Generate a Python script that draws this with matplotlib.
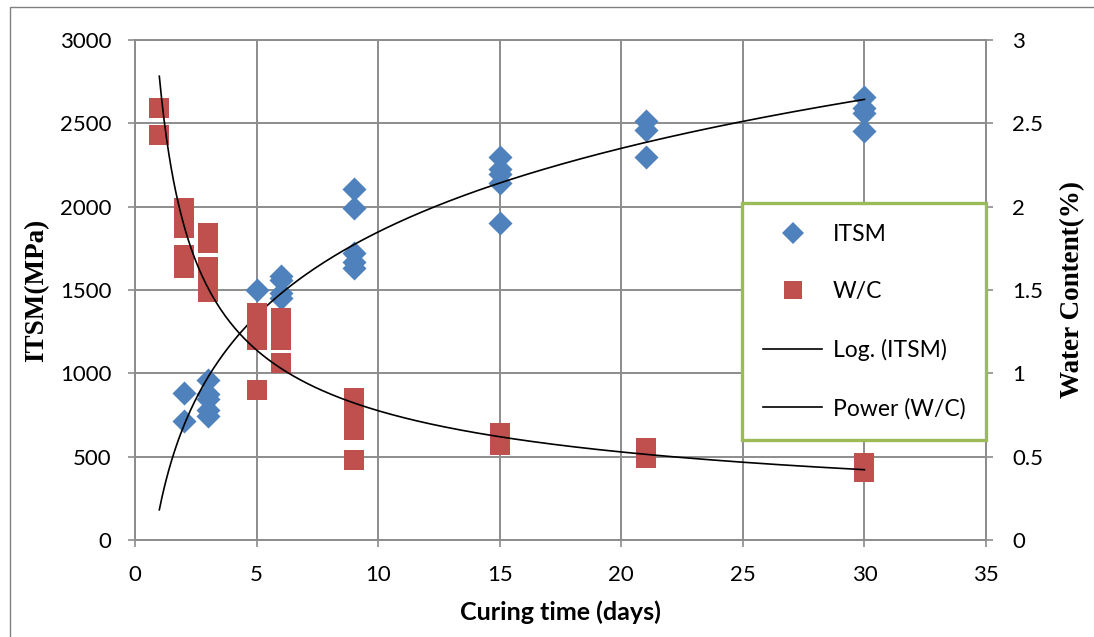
import numpy as np
import matplotlib
matplotlib.use("Agg")
import matplotlib.pyplot as plt
from matplotlib.lines import Line2D
from matplotlib.patches import Rectangle

# ITSM measurements (MPa) by curing time (days)
itsm_days = [2, 2, 3, 3, 3, 3, 3, 5, 6, 6, 6, 6, 9, 9, 9, 9, 9,
             15, 15, 15, 15, 15, 21, 21, 21, 30, 30, 30, 30]
itsm_vals = [885, 712, 960, 875, 845, 780, 742, 1500, 1585, 1560, 1485, 1455,
             2105, 1995, 1720, 1670, 1630,
             2300, 2225, 2195, 2140, 1900, 2515, 2460, 2300, 2660, 2595, 2560, 2455]

# Water content (%) by curing time (days)
wc_days = [1, 1, 2, 2, 2, 2, 2, 3, 3, 3, 3, 3, 5, 5, 5, 5, 6, 6, 6, 6,
           9, 9, 9, 9, 15, 15, 21, 21, 30, 30]
wc_vals = [2.59, 2.43, 1.99, 1.92, 1.87, 1.71, 1.63, 1.84, 1.78, 1.64, 1.56, 1.49,
           1.36, 1.28, 1.2, 0.9, 1.33, 1.26, 1.2, 1.06,
           0.85, 0.75, 0.66, 0.48, 0.64, 0.57, 0.55, 0.49, 0.46, 0.41]

x_ticks = [0, 5, 10, 15, 20, 25, 30, 35]
left_ticks = [0, 500, 1000, 1500, 2000, 2500, 3000]
right_ticks = [0, 0.5, 1, 1.5, 2, 2.5, 3]
right_labels = ["0", "0.5", "1", "1.5", "2", "2.5", "3"]

BLUE = "#4F81BD"
RED = "#C0504D"
GRID = "#8C8C8C"
GREEN = "#9BBB59"
tick_font = "Lato"

fig = plt.figure(figsize=(10.94, 6.37), dpi=100)
ax = fig.add_axes([135 / 1094, 1 - 540 / 637, 851 / 1094, 500 / 637])
ax2 = ax.twinx()

# Excel-style trend lines fitted to the data
a, b = np.polyfit(np.log(itsm_days), itsm_vals, 1)
p, q = np.polyfit(np.log(wc_days), np.log(wc_vals), 1)
xt = np.linspace(1, 30, 300)

ax.scatter(itsm_days, itsm_vals, marker="D", s=150, color=BLUE, linewidths=0, zorder=3)
ax.plot(xt, a * np.log(xt) + b, color="black", lw=1.2, zorder=4)
ax2.scatter(wc_days, wc_vals, marker="s", s=210, color=RED, linewidths=0, zorder=3)
ax2.plot(xt, np.exp(q) * xt ** p, color="black", lw=1.2, zorder=4)

ax.set_xlim(0, 35)
ax.set_ylim(0, 3000)
ax2.set_ylim(0, 3)
ax.set_xticks(x_ticks)
ax.set_yticks(left_ticks)
ax2.set_yticks(right_ticks)
ax2.set_yticklabels(right_labels)

ax.grid(True, color=GRID, lw=1.4)
ax.set_axisbelow(True)
for s in ax.spines.values():
    s.set_color(GRID)
    s.set_linewidth(1.4)
for s in ax2.spines.values():
    s.set_visible(False)

ax.tick_params(axis="both", colors=GRID, length=5, width=1.2, labelcolor="black", labelsize=16)
ax.tick_params(axis="x", pad=13)
ax.tick_params(axis="y", pad=12)
ax2.tick_params(axis="y", colors=GRID, length=5, width=1.2, labelcolor="black", labelsize=16, pad=14)
for lbl in ax.get_xticklabels() + ax.get_yticklabels() + ax2.get_yticklabels():
    lbl.set_fontfamily(tick_font)

ax.set_xlabel("Curing time (days)", fontsize=18, fontweight="bold", family="Lato", labelpad=11)
ax.set_ylabel("ITSM(MPa)", fontsize=19.5, fontweight="bold", family="Liberation Serif", labelpad=8)
ax2.set_ylabel("Water Content(%)", fontsize=19.5, fontweight="bold", family="Liberation Serif", labelpad=12)

handles = [
    Line2D([], [], marker="D", ls="none", color=BLUE, ms=11, mew=0),
    Line2D([], [], marker="s", ls="none", color=RED, ms=13, mew=0),
    Line2D([], [], color="black", lw=1.2),
    Line2D([], [], color="black", lw=1.2),
]
labels = ["ITSM", "W/C", "Log. (ITSM)", "Power (W/C)"]
leg = ax2.legend(handles, labels, loc="upper right", bbox_to_anchor=(1.0, 0.674),
                 prop={"family": tick_font, "size": 16.5}, labelspacing=1.6,
                 handlelength=2.6, handletextpad=0.45, borderpad=0.9,
                 fancybox=False, framealpha=1, borderaxespad=0)
leg.get_frame().set_edgecolor(GREEN)
leg.get_frame().set_linewidth(2.4)

# outer chart border
fig.patches.append(Rectangle((10 / 1094, -0.05), 1.2, 1.05 - 7 / 637, transform=fig.transFigure,
                             fill=False, edgecolor="#808080", lw=1.0))

fig.savefig("out.png", dpi=100)
